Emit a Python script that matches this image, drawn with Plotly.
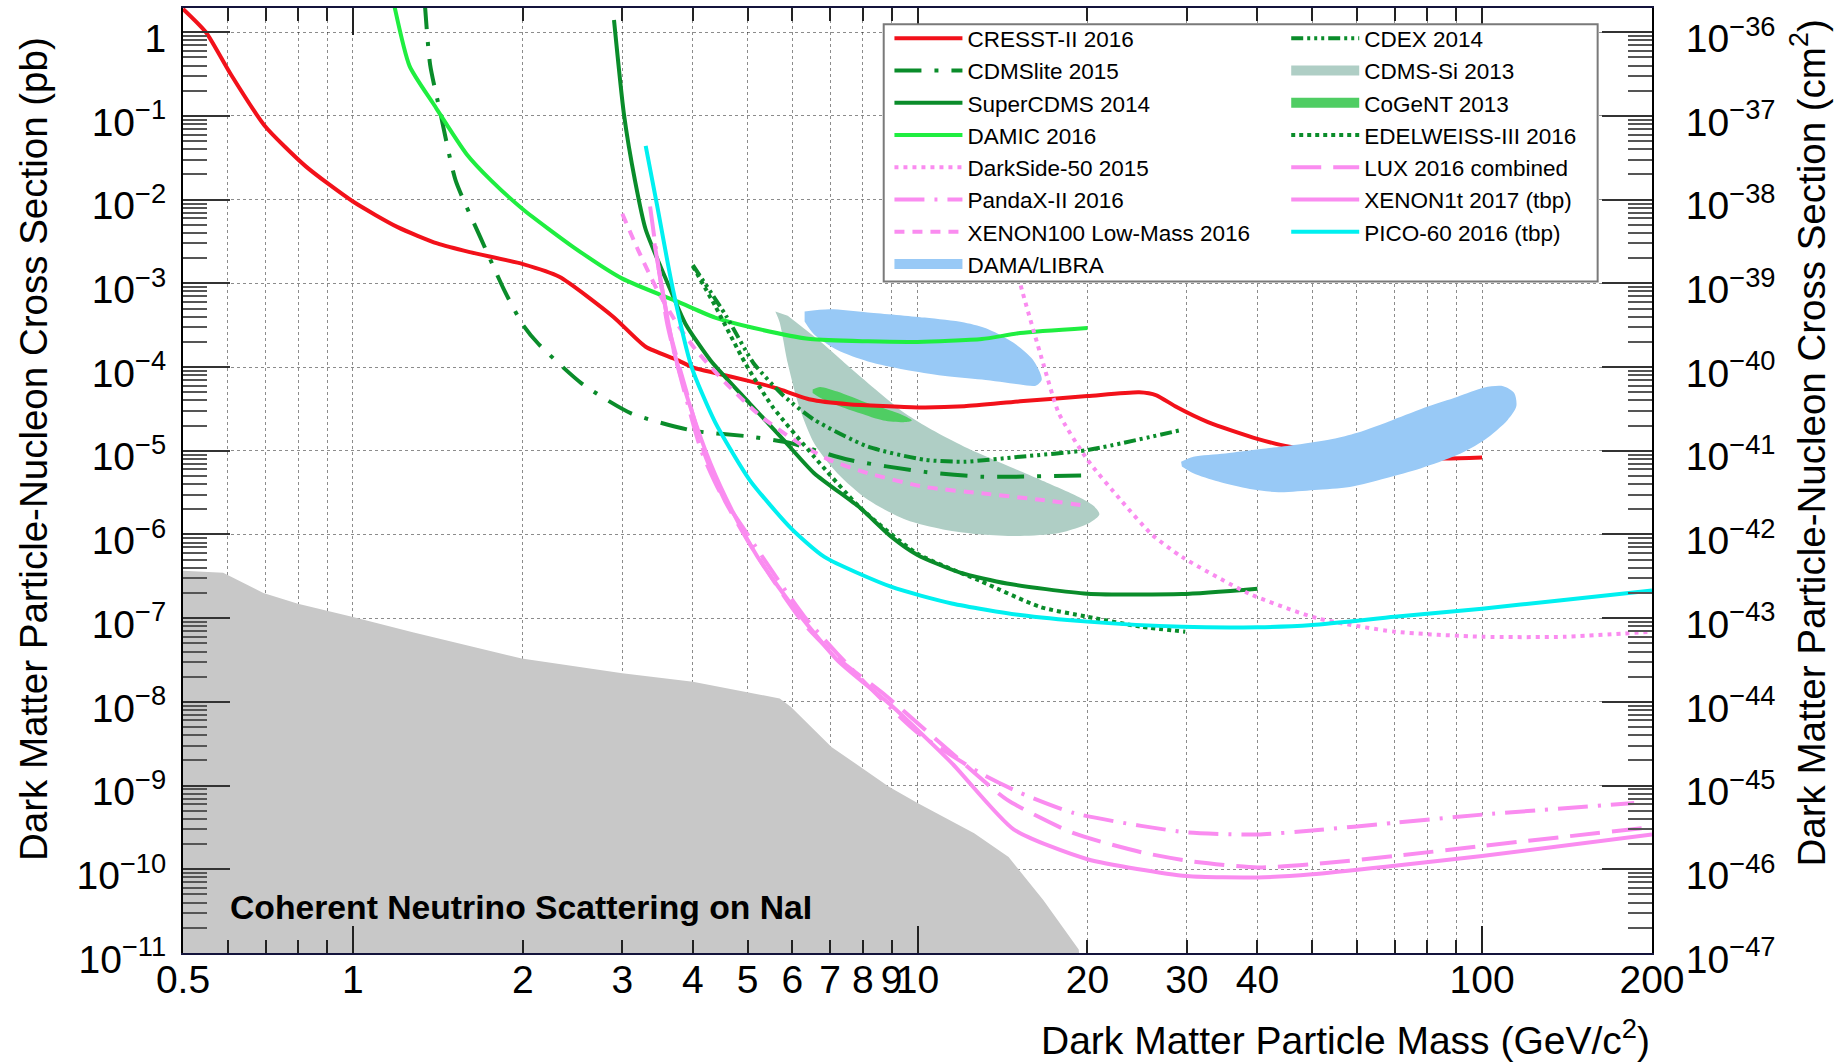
import plotly.graph_objects as go

FONT = "Liberation Sans, Arial, Helvetica, sans-serif"

# ---------------- data: mass (GeV/c^2) and cross section (pb) ----------------
cresst_m = [0.5, 0.549, 0.605, 0.697, 0.825, 1.0, 1.2, 1.41, 1.61, 2.0, 2.32, 2.89, 3.3, 3.74, 4.02, 4.38,
            5.04, 5.62, 6.46, 7.55, 10, 12.1, 15.2, 20, 24.7, 26.5, 28.6, 32.7, 40, 45.6, 60, 84, 100]
cresst_s = [1.9, 1.0, 0.33, 0.077, 0.025, 0.0095, 0.0047, 0.003, 0.00236, 0.0017, 0.0012,
            4.0e-4, 1.75e-4, 1.23e-4, 9.8e-5, 8.5e-5, 6.8e-5, 5.6e-5, 4.1e-5, 3.6e-5, 3.3e-5, 3.4e-5,
            3.9e-5, 4.5e-5, 5.0e-5, 4.6e-5, 3.4e-5, 2.2e-5, 1.39e-5, 1.12e-5, 9.5e-6, 8.1e-6, 8.3e-6]

cdmslite_m = [1.34, 1.37, 1.43, 1.52, 1.68, 1.86, 2.0, 2.13, 2.54, 3.11, 4.0, 5.04, 5.97, 7.55, 10.3, 13, 20]
cdmslite_s = [2.3, 0.41, 0.105, 0.017, 0.0036, 7.9e-4, 3.2e-4, 1.9e-4, 6.4e-5, 2.8e-5, 1.74e-5, 1.48e-5,
              1.23e-5, 7.8e-6, 5.6e-6, 4.9e-6, 5.1e-6]

supercdms_m = [2.9, 3.02, 3.16, 3.3, 3.61, 3.88, 4.3, 5.04, 5.79, 6.56, 7.9, 8.97, 10, 11.9, 14.4, 20, 29.4, 40]
supercdms_s = [1.4, 0.105, 0.0168, 0.0044, 1e-3, 3.3e-4, 1.2e-4, 3.7e-5, 1.35e-5, 5.4e-6, 2.1e-6, 9.5e-7,
               5.7e-7, 3.5e-7, 2.6e-7, 1.96e-7, 1.94e-7, 2.25e-7]

damic_m = [1.18, 1.26, 1.39, 1.59, 1.76, 2.0, 2.46, 3.0, 3.77, 4.38, 5.11, 6.46, 8.17, 10, 13, 15.2, 20]
damic_s = [2.3, 0.394, 0.138, 0.035, 0.0168, 0.0077, 0.0027, 0.00114, 6.0e-4, 3.9e-4, 2.95e-4, 2.16e-4,
           2.03e-4, 2.0e-4, 2.16e-4, 2.55e-4, 2.93e-4]

darkside_m = [14.5, 15.2, 16.7, 17.8, 20, 23, 26, 29.4, 38.7, 51, 70, 100, 140, 200]
darkside_s = [4e-3, 1.0e-3, 1.1e-4, 2.8e-5, 7.8e-6, 2.5e-6, 1.0e-6, 5.4e-7, 1.96e-7, 1.0e-7, 6.9e-8, 6.0e-8,
              6.0e-8, 6.9e-8]

pandax_m = [3.36, 3.6, 3.83, 4.14, 4.48, 5.0, 5.6, 6.3, 7.2, 8.3, 10, 12.9, 15.2, 18.9, 24.9, 30.2, 40, 50,
            70, 100, 186]
pandax_s = [8.3e-3, 3.4e-4, 6.4e-5, 1.0e-5, 3.1e-6, 1.0e-6, 3.2e-7, 1.05e-7, 3.8e-8, 1.4e-8, 4.3e-9, 1.42e-9,
            8.2e-10, 4.7e-10, 3.3e-10, 2.75e-10, 2.6e-10, 2.9e-10, 3.6e-10, 4.5e-10, 6.2e-10]

xenon100_m = [3.0, 3.2, 3.46, 3.74, 4.05, 4.58, 5.27, 6.17, 6.98, 8.17, 10.3, 13.0, 16.5, 20]
xenon100_s = [6.8e-3, 2.5e-3, 8.3e-4, 3.4e-4, 1.6e-4, 6.4e-5, 2.6e-5, 1.23e-5, 7.8e-6, 5.4e-6, 3.7e-6, 3.1e-6,
              2.6e-6, 2.2e-6]

cdex_m = [4.0, 4.58, 5.12, 5.80, 6.56, 8.17, 10.3, 12.1, 15.2, 20, 29.4]
cdex_s = [1.65e-3, 4.1e-4, 1.12e-4, 4.5e-5, 2.35e-5, 1.12e-5, 7.8e-6, 7.4e-6, 8.5e-6, 1.02e-5, 1.78e-5]

edelweiss_m = [4.0, 4.38, 4.95, 5.53, 6.56, 7.91, 10, 12.9, 16.5, 20, 24.9, 29.8]
edelweiss_s = [1.6e-3, 5.4e-4, 1.12e-4, 3.4e-5, 8.5e-6, 2.1e-6, 5.9e-7, 2.8e-7, 1.36e-7, 1.04e-7, 7.9e-8, 6.9e-8]

lux_m = [3.42, 3.65, 3.9, 4.2, 4.55, 5.0, 5.6, 6.3, 7.23, 8.77, 11.5, 14.4, 18.9, 24.9, 30.2, 40, 50, 70, 100, 200]
lux_s = [3e-3, 2.5e-4, 5e-5, 9e-6, 2.6e-6, 8.5e-7, 2.6e-7, 8.5e-8, 3.3e-8, 1.2e-8, 2.45e-9, 6.8e-10, 2.7e-10,
         1.6e-10, 1.26e-10, 1.05e-10, 1.15e-10, 1.44e-10, 1.9e-10, 3.2e-10]

xenon1t_m = [3.48, 3.7, 3.95, 4.3, 4.7, 5.2, 5.96, 7.23, 9.0, 11.5, 14.8, 20, 30, 40, 50, 70, 100, 200]
xenon1t_s = [1.5e-3, 1.6e-4, 3.5e-5, 7e-6, 1.9e-6, 5.5e-7, 1.5e-7, 3.1e-8, 9e-9, 1.86e-9, 3.0e-10, 1.32e-10,
             8.3e-11, 8.0e-11, 8.7e-11, 1.1e-10, 1.44e-10, 2.6e-10]

pico_m = [3.3, 3.46, 3.68, 3.98, 4.38, 5.04, 5.96, 6.84, 9.0, 11.5, 15.2, 20, 29.4, 40, 50, 70, 100, 137, 200]
pico_s = [0.044, 0.0083, 9.1e-4, 1.0e-4, 2.2e-5, 4.5e-6, 1.2e-6, 5.4e-7, 2.36e-7, 1.5e-7, 1.09e-7, 9.1e-8,
          7.9e-8, 7.8e-8, 8.3e-8, 1.04e-7, 1.3e-7, 1.63e-7, 2.14e-7]

# closed regions
cdmssi_m = [5.60, 5.70, 5.89, 6.17, 6.56, 7.21, 8.17, 9.54, 11.1, 13.0, 15.2, 17.8, 20.2, 21.0, 20.5, 19.3,
            16.5, 14.1, 12.1, 10.6, 9.5, 8.43, 7.43, 6.77, 6.27, 5.89]
cdmssi_s = [4.6e-4, 3.4e-4, 1.12e-4, 3.4e-5, 1.23e-5, 5.4e-6, 2.6e-6, 1.5e-6, 1.15e-6, 1.0e-6, 9.6e-7, 1.04e-6,
            1.38e-6, 1.74e-6, 2.2e-6, 2.8e-6, 4.5e-6, 7.1e-6, 1.12e-5, 1.78e-5, 2.8e-5, 5.4e-5, 1.12e-4,
            1.95e-4, 2.95e-4, 4.1e-4]

cogent_m = [6.52, 6.72, 7.21, 8.17, 9.25, 9.77, 9.54, 8.7, 7.91, 7.21, 6.72, 6.52]
cogent_s = [5.4e-5, 5.8e-5, 5.1e-5, 3.7e-5, 2.8e-5, 2.3e-5, 2.2e-5, 2.3e-5, 2.8e-5, 3.5e-5, 4.3e-5, 4.9e-5]

dama1_m = [6.31, 6.98, 8.17, 10.3, 12.1, 13.4, 14.8, 16.0, 16.6, 16.2, 15.2, 13.0, 11.1, 9.5, 8.17, 7.21,
           6.56, 6.31]
dama1_s = [4.6e-4, 4.9e-4, 4.5e-4, 3.9e-4, 3.4e-4, 2.8e-4, 1.95e-4, 1.23e-4, 7.1e-5, 6.0e-5, 6.2e-5, 7.1e-5,
           7.9e-5, 9.3e-5, 1.17e-4, 1.6e-4, 2.45e-4, 3.5e-4]
dama2_m = [29.3, 30.8, 35.1, 40.6, 46.9, 54.3, 60.1, 69.5, 80.4, 90.3, 101, 109, 114, 115, 111, 101, 90.3,
           78, 67.5, 58.3, 50.5, 43.6, 38.8, 34.1, 30.8, 29.4]
dama2_s = [7.4e-6, 8.5e-6, 9.3e-6, 1.05e-5, 1.18e-5, 1.38e-5, 1.64e-5, 2.34e-5, 3.4e-5, 4.4e-5, 5.7e-5, 5.9e-5,
           4.9e-5, 3.4e-5, 2.34e-5, 1.35e-5, 8.9e-6, 6.2e-6, 4.7e-6, 3.7e-6, 3.4e-6, 3.2e-6, 3.5e-6, 4.3e-6,
           5.4e-6, 6.5e-6]

floor_m = [0.5, 0.589, 0.694, 0.799, 1.0, 1.276, 1.99, 3.0, 4.0, 4.99, 5.70, 5.97, 7.04, 8.9, 10, 12.6, 14.5,
           16.7, 19.3, 20.0, 0.5]
floor_s = [3.7e-7, 3.5e-7, 2.0e-7, 1.49e-7, 1.03e-7, 6.8e-8, 3.3e-8, 2.2e-8, 1.74e-8, 1.32e-8, 1.1e-8, 8.7e-9,
           2.9e-9, 9.7e-10, 6.2e-10, 2.7e-10, 1.4e-10, 4.3e-11, 1.1e-11, 1e-12, 1e-12]

x_tick_vals = [0.5, 1, 2, 3, 4, 5, 6, 7, 8, 9, 10, 20, 30, 40, 100, 200]
x_tick_text = ["0.5", "1", "2", "3", "4", "5", "6", "7", "8", "9", "10", "20", "30", "40", "100", "200"]
x_minor_vals = [0.6, 0.7, 0.8, 0.9, 50, 60, 70, 80, 90]
x_long_vals = [1, 10, 100]

y_exponents = list(range(0, -12, -1))
y2_exponents = list(range(-36, -48, -1))

# ---------------- styles ----------------
RED = "#f2111a"
DKGREEN = "#0a8c2a"
LTGREEN = "#1fee40"
PINK = "#fa8cf0"
CYAN = "#00f0f0"
DAMA_C = "#98c9f6"
CDMSSI_C = "#afcec5"
COGENT_C = "#4fcd63"
FLOOR_C = "#c8c8c8"
LW = 4

fig = go.Figure()


def add_fill(m, s, color, spline=True):
    fig.add_trace(go.Scatter(x=m, y=s, mode="lines", fill="toself", fillcolor=color,
                             line=dict(width=0, color=color, shape="spline" if spline else "linear",
                                       smoothing=0.8),
                             showlegend=False, hoverinfo="skip"))


def add_line(name, m, s, color, dash, legend, rank):
    fig.add_trace(go.Scatter(x=m, y=s, mode="lines", name=name,
                             line=dict(color=color, width=LW, dash=dash, shape="spline", smoothing=0.6),
                             legend=legend, legendrank=rank, hoverinfo="skip"))


def add_fill_legend(name, color, legend, rank):
    fig.add_trace(go.Scatter(x=[None], y=[None], mode="lines", name=name,
                             line=dict(color=color, width=20), legend=legend, legendrank=rank,
                             hoverinfo="skip"))


# neutrino floor
add_fill(floor_m, floor_s, FLOOR_C, spline=False)
add_fill(cdmssi_m, cdmssi_s, CDMSSI_C)
add_fill(cogent_m, cogent_s, COGENT_C)
add_line("CRESST-II 2016", cresst_m, cresst_s, RED, "solid", "legend", 1)
add_fill(dama1_m + [None] + dama2_m, dama1_s + [None] + dama2_s, DAMA_C)

add_line("CDMSlite 2015", cdmslite_m, cdmslite_s, DKGREEN, "27px,13px,4px,13px", "legend", 2)
add_line("SuperCDMS 2014", supercdms_m, supercdms_s, DKGREEN, "solid", "legend", 3)
add_line("DAMIC 2016", damic_m, damic_s, LTGREEN, "solid", "legend", 4)
add_line("DarkSide-50 2015", darkside_m, darkside_s, PINK, "4px,5px", "legend", 5)
add_line("PandaX-II 2016", pandax_m, pandax_s, PINK, "30px,10px,3px,10px", "legend", 6)
add_line("XENON100 Low-Mass 2016", xenon100_m, xenon100_s, PINK, "10px,8px", "legend", 7)
add_fill_legend("DAMA/LIBRA", DAMA_C, "legend", 8)

add_line("CDEX 2014", cdex_m, cdex_s, DKGREEN, "12px,4px,3px,4px,3px,4px,3px,4px", "legend2", 1)
add_fill_legend("CDMS-Si 2013", CDMSSI_C, "legend2", 2)
add_fill_legend("CoGeNT 2013", COGENT_C, "legend2", 3)
add_line("EDELWEISS-III 2016", edelweiss_m, edelweiss_s, DKGREEN, "4px,4px", "legend2", 4)
add_line("LUX 2016 combined", lux_m, lux_s, PINK, "30px,12px", "legend2", 5)
add_line("XENON1t 2017 (tbp)", xenon1t_m, xenon1t_s, PINK, "solid", "legend2", 6)
add_line("PICO-60 2016 (tbp)", pico_m, pico_s, CYAN, "solid", "legend2", 7)

# dummy traces so the overlay axes exist
fig.add_trace(go.Scatter(x=[None], y=[None], xaxis="x2", yaxis="y", showlegend=False, hoverinfo="skip"))
fig.add_trace(go.Scatter(x=[None], y=[None], xaxis="x", yaxis="y2", showlegend=False, hoverinfo="skip"))

XR = [-0.30103, 2.30103]
YTOP = 0.29
YR = [-11, YTOP]
Y2R = [-47, YTOP - 36]

GRIDC = "rgba(0,0,0,0.45)"
GRID = dict(showgrid=True, gridcolor=GRIDC, griddash="dot", gridwidth=1)
tickfont = dict(family=FONT, size=39, color="black")

y_minor = [k * 10.0 ** e for e in range(-11, 1) for k in range(2, 10) if k * 10.0 ** e < 1.9]
y2_minor = [k * 10.0 ** e for e in range(-47, -35) for k in range(2, 10) if k * 10.0 ** e < 1.9e-36]

LEGFONT = dict(family=FONT, size=22.5, color="black")

fig.update_layout(
    width=1835, height=1063,
    margin=dict(l=183, r=183, t=8, b=110, autoexpand=False),
    paper_bgcolor="white", plot_bgcolor="white",
    font=dict(family=FONT, color="black"),
    xaxis=dict(type="log", range=XR, tickmode="array", tickvals=x_tick_vals, ticktext=x_tick_text,
               ticks="inside", ticklen=13, tickwidth=2, tickcolor="#222", tickangle=0,
               showline=True, linecolor="#14143c", linewidth=2, mirror="ticks",
               tickfont=tickfont, zeroline=False, ticklabelstandoff=-9,
               minor=dict(tickmode="array", tickvals=x_minor_vals, ticks="inside", ticklen=13, tickwidth=2,
                          tickcolor="#222", showgrid=True, gridcolor=GRIDC, griddash="dot",
                          gridwidth=1),
               **GRID),
    xaxis2=dict(type="log", range=XR, overlaying="x", anchor="y", tickmode="array", tickvals=x_long_vals,
                ticks="inside", ticklen=27, tickwidth=2, tickcolor="#222", showticklabels=False,
                showgrid=False, zeroline=False, showline=True, linecolor="#14143c", linewidth=2,
                mirror="ticks"),
    yaxis=dict(type="log", range=YR, tickmode="array", tickvals=[10.0 ** e for e in y_exponents],
               ticktext=["1" if e == 0 else "10<sup>\u2212%d</sup>" % (-e) for e in y_exponents],
               ticks="inside", ticklen=47, tickwidth=2, tickcolor="#333",
               showline=True, linecolor="black", linewidth=2, mirror=False,
               tickfont=tickfont, zeroline=False, ticklabelstandoff=7, ticklabelshift=6,
               minor=dict(tickmode="array", tickvals=y_minor, ticks="inside", ticklen=24, tickwidth=2,
                          tickcolor="#555", showgrid=False),
               **GRID),
    yaxis2=dict(type="log", range=Y2R, overlaying="y", side="right", anchor="x", tickmode="array",
                tickvals=[10.0 ** e for e in y2_exponents],
                ticktext=["10<sup>\u2212%d</sup>" % (-e) for e in y2_exponents],
                ticks="inside", ticklen=50, tickwidth=2, tickcolor="#333",
                showline=True, linecolor="black", linewidth=2, showgrid=False, zeroline=False,
                tickfont=tickfont, ticklabelstandoff=24, ticklabelshift=6,
                minor=dict(tickmode="array", tickvals=y2_minor, ticks="inside", ticklen=24, tickwidth=2,
                           tickcolor="#555", showgrid=False)),
    legend=dict(x=0.4809, xanchor="left", y=0.9903, yanchor="top", bgcolor="rgba(0,0,0,0)", borderwidth=0,
                font=LEGFONT, itemwidth=68, traceorder="normal", tracegroupgap=0),
    legend2=dict(x=0.751, xanchor="left", y=0.9903, yanchor="top", bgcolor="rgba(0,0,0,0)", borderwidth=0,
                 font=LEGFONT, itemwidth=68, traceorder="normal", tracegroupgap=0),
    shapes=[dict(type="rect", xref="paper", yref="paper", x0=0.477, x1=0.963, y0=0.7105, y1=0.9828,
                 fillcolor="white", line=dict(color="#7a7a7a", width=2), layer="above")],
    annotations=[
        dict(text="Dark Matter Particle Mass (GeV/c<sup>2</sup>)", xref="paper", yref="paper", x=1.0, y=-0.0894,
             xanchor="right", yanchor="middle", showarrow=False, font=dict(family=FONT, size=39, color="black")),
        dict(text="Dark Matter Particle-Nucleon Cross Section (pb)", xref="paper", yref="paper", x=-0.1021,
             y=0.9714, xanchor="center", yanchor="top", textangle=-90, showarrow=False,
             font=dict(family=FONT, size=38.5, color="black")),
        dict(text="Dark Matter Particle-Nucleon Cross Section (cm<sup>2</sup>)", xref="paper", yref="paper",
             x=1.1062, y=0.9894, xanchor="center", yanchor="top", textangle=-90, showarrow=False,
             font=dict(family=FONT, size=38.5, color="black")),
        dict(text="<b>Coherent Neutrino Scattering on NaI</b>", xref="paper", yref="paper", x=0.0306,
             y=0.0492, xanchor="left", yanchor="middle", showarrow=False,
             font=dict(family=FONT, size=33.7, color="black")),
    ],
)

fig.write_html("out.html")
